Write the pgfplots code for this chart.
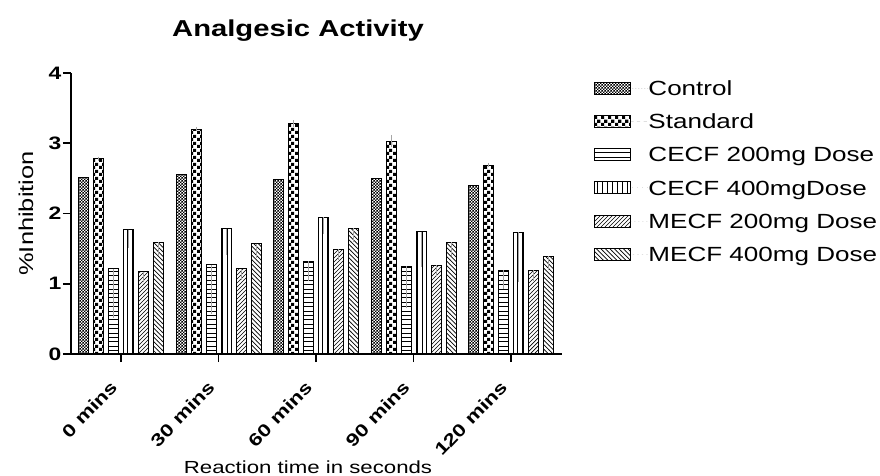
\documentclass[border=0pt]{standalone}
\usepackage{fontspec}
\setmainfont{Liberation Sans}[FakeStretch=1.27]
\usepackage{pgfplots}
\usepackage{pgfplotstable}
\pgfplotsset{compat=1.18}
\usetikzlibrary{patterns}

\pgfdeclarepatternformonly{finechecker}{\pgfqpoint{0pt}{0pt}}{\pgfqpoint{3.4pt}{3.4pt}}{\pgfqpoint{3.4pt}{3.4pt}}{%
  \pgfpathrectangle{\pgfqpoint{0pt}{0pt}}{\pgfqpoint{1.7pt}{1.7pt}}%
  \pgfpathrectangle{\pgfqpoint{1.7pt}{1.7pt}}{\pgfqpoint{1.7pt}{1.7pt}}%
  \pgfusepath{fill}}
\pgfdeclarepatternformonly{bigchecker}{\pgfqpoint{0pt}{0pt}}{\pgfqpoint{6.6pt}{6.6pt}}{\pgfqpoint{6.6pt}{6.6pt}}{%
  \pgfpathrectangle{\pgfqpoint{0pt}{0pt}}{\pgfqpoint{3.3pt}{3.3pt}}%
  \pgfpathrectangle{\pgfqpoint{3.3pt}{3.3pt}}{\pgfqpoint{3.3pt}{3.3pt}}%
  \pgfusepath{fill}}
\pgfdeclarepatternformonly{hlin}{\pgfqpoint{-0.5pt}{0pt}}{\pgfqpoint{5pt}{4.4pt}}{\pgfqpoint{4.4pt}{4.4pt}}{%
  \pgfsetlinewidth{0.8pt}%
  \pgfpathmoveto{\pgfqpoint{-0.5pt}{2.2pt}}\pgfpathlineto{\pgfqpoint{5pt}{2.2pt}}\pgfusepath{stroke}}
\pgfdeclarepatternformonly{vlin}{\pgfqpoint{0pt}{-0.5pt}}{\pgfqpoint{5pt}{5.5pt}}{\pgfqpoint{5pt}{5pt}}{%
  \pgfsetlinewidth{0.8pt}%
  \pgfpathmoveto{\pgfqpoint{2.5pt}{-0.5pt}}\pgfpathlineto{\pgfqpoint{2.5pt}{5.5pt}}\pgfusepath{stroke}}
\pgfdeclarepatternformonly{nelin}{\pgfqpoint{-1pt}{-1pt}}{\pgfqpoint{5pt}{5pt}}{\pgfqpoint{4pt}{4pt}}{%
  \pgfsetlinewidth{0.7pt}%
  \pgfpathmoveto{\pgfqpoint{0pt}{0pt}}\pgfpathlineto{\pgfqpoint{4.1pt}{4.1pt}}\pgfusepath{stroke}}
\pgfdeclarepatternformonly{nwlin}{\pgfqpoint{-1pt}{-1pt}}{\pgfqpoint{5.5pt}{5.5pt}}{\pgfqpoint{4.5pt}{4.5pt}}{%
  \pgfsetlinewidth{0.7pt}%
  \pgfpathmoveto{\pgfqpoint{-0.1pt}{4.6pt}}\pgfpathlineto{\pgfqpoint{4.6pt}{-0.1pt}}\pgfusepath{stroke}}

% columns: x, value, error plus, error minus
\pgfplotstableread{
x y ep em
0 2.51 0 0
1 2.55 0 0
2 2.48 0 0
3 2.50 0 0
4 2.40 0 0
}\control
\pgfplotstableread{
x y ep em
0 2.78 0.03 0.03
1 3.20 0.03 0.03
2 3.28 0.05 0.05
3 3.03 0.09 0.09
4 2.69 0.03 0.03
}\standard
\pgfplotstableread{
x y ep em
0 1.21 0 0.70
1 1.27 0 0.70
2 1.32 0 0.28
3 1.25 0 0.60
4 1.19 0 0.26
}\cecfa
\pgfplotstableread{
x y ep em
0 1.77 0 0.26
1 1.78 0 0.37
2 1.95 0 0.24
3 1.74 0 0.50
4 1.73 0 0.70
}\cecfb
\pgfplotstableread{
x y ep em
0 1.17 0 0.15
1 1.21 0 0.15
2 1.49 0 0.15
3 1.26 0 0.15
4 1.19 0 0.15
}\mecfa
\pgfplotstableread{
x y ep em
0 1.59 0 0.20
1 1.57 0 0.20
2 1.79 0 0.20
3 1.59 0 0.20
4 1.39 0 0.20
}\mecfb

\begin{document}
\begin{tikzpicture}
\path[use as bounding box] (-71pt,-122pt) rectangle (809pt,354pt);
\begin{axis}[
  scale only axis,
  width=491pt, height=281pt,
  xmin=-0.513, xmax=4.523, ymin=0, ymax=4,
  axis lines=left,
  axis line style={-, line width=1.8pt, black},
  ybar=5pt, bar width=10pt,
  xtick={0,1,2,3,4},
  xticklabels={0 mins,30 mins,60 mins,90 mins,120 mins},
  ytick={0,1,2,3,4},
  tick align=outside,
  major tick length=8pt,
  tick style={line width=1.8pt, black},
  /pgf/number format/assume math mode=true,
  x tick label style={xshift=-12pt, yshift=-16pt, rotate=46, anchor=north east, inner sep=1pt,
     font=\bfseries\fontsize{17.5pt}{20pt}\selectfont},
  y tick label style={inner xsep=1.5pt, font=\bfseries\fontsize{18pt}{21pt}\selectfont},
  title={Analgesic Activity},
  title style={at={(axis description cs:0.4623,1.1068)}, anchor=base, inner sep=0pt,
     font=\bfseries\fontsize{23pt}{27pt}\selectfont},
  xlabel={Reaction time in seconds},
  xlabel style={at={(axis description cs:0.4827,-0.4235)}, anchor=base, inner sep=0pt,
     font=\fontsize{17.5pt}{21pt}\selectfont},
  ylabel={\%Inhibition},
  ylabel style={at={(axis description cs:-0.0774,0.5)}, anchor=base, inner sep=0pt,
     font=\fontsize{20pt}{24pt}\selectfont},
  legend cell align=left,
  legend style={at={(axis description cs:1.0652,0.9715)}, anchor=north west,
     draw=none, fill=none, inner sep=0pt, outer sep=0pt, row sep=18.7pt,
     font=\fontsize{20.5pt}{24pt}\selectfont,
     nodes={inner sep=0pt, text height=14.5pt, text depth=0pt}},
  leg/.style={legend image code/.code={%
     \draw[##1, line width=0.9pt] (0pt,-6pt) rectangle (36pt,6pt);
     \path[draw=none] (36pt,0pt) -- (54pt,0pt);}},
  eb/.style={error bars/.cd, y dir=both, y explicit, error mark=none,
     error bar style={black!35, line width=0.7pt}},
]
\addplot[draw=black, line width=1pt, pattern=finechecker, leg, eb]
  table[x=x, y=y, y error plus=ep, y error minus=em] {\control};
\addplot[draw=black, line width=1pt, pattern=bigchecker, leg, eb]
  table[x=x, y=y, y error plus=ep, y error minus=em] {\standard};
\addplot[draw=black, line width=1pt, pattern=hlin, leg, eb]
  table[x=x, y=y, y error plus=ep, y error minus=em] {\cecfa};
\addplot[draw=black, line width=1pt, pattern=vlin, leg, eb]
  table[x=x, y=y, y error plus=ep, y error minus=em] {\cecfb};
\addplot[draw=black, line width=1pt, pattern=nelin, leg, eb]
  table[x=x, y=y, y error plus=ep, y error minus=em] {\mecfa};
\addplot[draw=black, line width=1pt, pattern=nwlin, leg, eb]
  table[x=x, y=y, y error plus=ep, y error minus=em] {\mecfb};
\legend{Control, Standard, CECF 200mg Dose, CECF 400mgDose, MECF 200mg Dose, MECF 400mg Dose}
\end{axis}
\end{tikzpicture}
\end{document}
